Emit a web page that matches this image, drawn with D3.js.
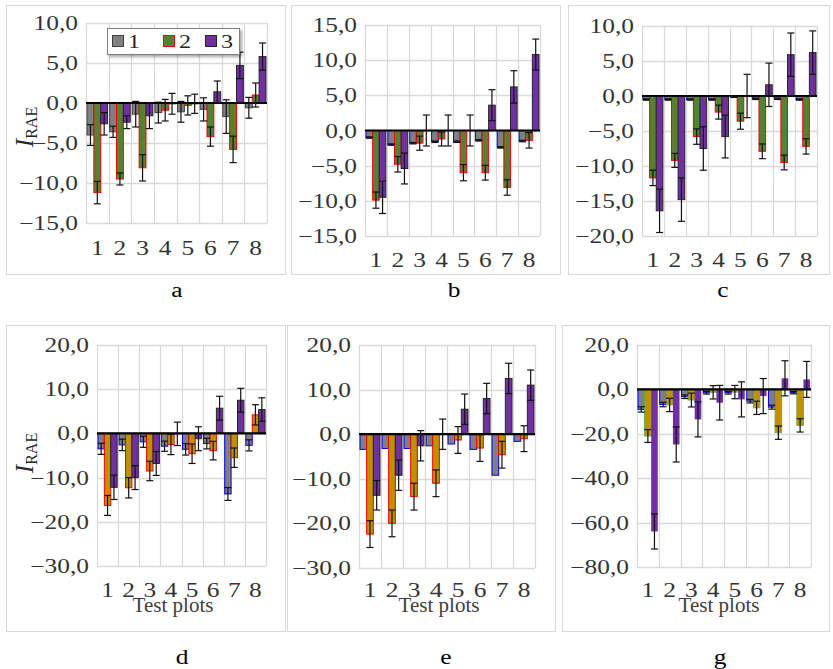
<!DOCTYPE html>
<html>
<head>
<meta charset="utf-8">
<script src="https://cdn.jsdelivr.net/npm/d3@7"></script>
<style>
  body { margin: 0; background: #fff; }
  svg { display: block; }
</style>
</head>
<body>
<svg id="chart" width="833" height="669"></svg>
<script>
const categories = ["1", "2", "3", "4", "5", "6", "7", "8"];

// panel a
const aS1 = [-4.0, -3.6, -1.4, -1.2, -1.1, -0.8, -1.7, -0.6];
const aS2 = [-11.2, -9.5, -8.1, -0.9, -0.3, -4.2, -5.8, 1.0];
const aS3 = [-2.6, -2.4, -1.6, -0.1, -0.1, 1.4, 4.7, 5.8];
const aE1 = [1.3, 0.7, 1.6, 1.3, 1.3, 1.45, 2.1, 1.3];
const aE2 = [1.4, 0.75, 1.65, 1.35, 1.2, 1.2, 1.65, 1.5];
const aE3 = [1.4, 0.8, 1.6, 1.3, 1.2, 1.35, 1.65, 1.7];

// panel b
const bS1 = [-1.0, -2.0, -1.8, -1.6, -1.6, -1.4, -2.4, -1.5];
const bS2 = [-9.9, -4.8, -1.8, -1.2, -6.0, -6.0, -8.1, -1.4];
const bS3 = [-9.5, -5.4, 0.0, 0.0, 0.0, 3.6, 6.2, 10.8];
const bE1 = [0.1, 0.1, 0.1, 0.1, 0.1, 0.1, 0.1, 0.1];
const bE2 = [1.15, 1.1, 1.0, 1.0, 1.15, 1.05, 1.1, 1.1];
const bE3 = [2.3, 2.2, 2.2, 2.2, 2.2, 2.2, 2.3, 2.2];

// panel c
const cS1 = [-0.5, -0.5, -0.5, -0.5, -0.1, -0.4, -0.4, -0.5];
const cS2 = [-11.7, -9.2, -5.8, -2.3, -3.6, -7.9, -9.5, -7.2];
const cS3 = [-16.4, -14.8, -7.5, -5.8, 0.0, 1.6, 5.9, 6.2];
const cE1 = [0.1, 0.1, 0.1, 0.1, 0.1, 0.1, 0.1, 0.1];
const cE2 = [1.1, 1.0, 1.1, 1.0, 1.15, 1.05, 1.05, 1.1];
const cE3 = [3.1, 3.1, 3.1, 3.05, 3.1, 3.1, 3.1, 3.1];

// panel d
const dS1 = [-3.5, -2.6, -1.9, -2.9, -3.6, -2.3, -13.7, -2.7];
const dS2 = [-16.3, -12.3, -8.5, -2.5, -4.6, -3.9, -5.5, 4.2];
const dS3 = [-12.2, -10.0, -6.8, -0.1, -1.2, 5.7, 7.5, 5.4];
const dE1 = [1.25, 1.3, 1.25, 1.15, 1.3, 1.2, 1.45, 1.25];
const dE2 = [2.25, 2.3, 2.2, 2.3, 2.2, 2.1, 2.2, 2.3];
const dE3 = [2.75, 2.7, 2.7, 2.65, 2.7, 2.7, 2.7, 2.65];

// panel e
const eS1 = [-3.4, -3.2, -3.2, -2.6, -2.2, -3.4, -9.2, -1.6];
const eS2 = [-22.4, -20.0, -14.0, -11.0, -1.3, -3.1, -4.6, -1.0];
const eS3 = [-13.7, -9.2, -2.6, 0.0, 5.6, 8.0, 12.5, 11.0];
const eE1 = [0, 0, 0, 0, 0, 0, 0, 0];
const eE2 = [3.0, 3.0, 3.0, 3.0, 3.0, 3.0, 3.0, 2.9];
const eE3 = [3.3, 3.4, 3.4, 3.4, 3.4, 3.4, 3.4, 3.4];

// panel g
const gS1 = [-9.0, -6.8, -3.3, -1.5, -1.5, -5.3, -8.0, -1.5];
const gS2 = [-21.0, -7.0, -4.8, -1.3, -1.2, -8.3, -19.5, -16.2];
const gS3 = [-64.0, -24.8, -13.5, -6.0, -4.5, -3.0, 5.0, 4.5];
const gE1 = [1.2, 1.0, 0.8, 0.6, 0.6, 0.8, 0.9, 0.5];
const gE2 = [2.9, 3.0, 3.1, 3.0, 3.0, 3.0, 3.0, 3.0];
const gE3 = [7.9, 7.9, 7.9, 7.8, 7.9, 7.9, 7.9, 8.1];

const ticksA = [-15, -10, -5, 0, 5, 10];
const ticksB = [-15, -10, -5, 0, 5, 10, 15];
const ticksC = [-20, -15, -10, -5, 0, 5, 10];
const ticksDE = [-30, -20, -10, 0, 10, 20];
const ticksG = [-80, -60, -40, -20, 0, 20];

const legendLabels = ["1", "2", "3"];

const GRAY = "#808080", GREEN = "#548235", PURPLE = "#7030a0", GOLD = "#bf9000";
const FONT = "'Liberation Serif', 'Times New Roman', serif";
const STRETCH = 1.27; // reference text is drawn wide

const panels = [
  { name: "a", frame: [6, 5, 285, 274], plot: [86, 23, 267, 223], ticks: ticksA,
    series: [aS1, aS2, aS3], errs: [aE1, aE2, aE3],
    fills: [GRAY, GREEN, PURPLE], strokes: ["#404040", "#ff0000", "#262626"],
    xLabelY: 255, label: [177, 297], yTitle: [33, 127], legend: true },
  { name: "b", frame: [291, 5, 560, 274], plot: [365, 25, 540, 236], ticks: ticksB,
    series: [bS1, bS2, bS3], errs: [bE1, bE2, bE3],
    fills: [GRAY, GREEN, PURPLE], strokes: ["#0000ff", "#ff0000", "#262626"],
    xLabelY: 267, label: [454, 297] },
  { name: "c", frame: [568, 5, 829, 274], plot: [642, 26, 817, 236], ticks: ticksC,
    series: [cS1, cS2, cS3], errs: [cE1, cE2, cE3],
    fills: [GRAY, GREEN, PURPLE], strokes: ["#0000ff", "#ff0000", "#262626"],
    xLabelY: 267, label: [723, 297] },
  { name: "d", frame: [6, 325, 285, 631], plot: [97, 345, 266, 566], ticks: ticksDE,
    series: [dS1, dS2, dS3], errs: [dE1, dE2, dE3],
    fills: [GRAY, GOLD, PURPLE], strokes: ["#0000ff", "#ff0000", "#262626"],
    xLabelY: 597, label: [182, 664], yTitle: [33, 453], xTitle: [173, 612] },
  { name: "e", frame: [287, 325, 555, 631], plot: [359, 345, 535, 568], ticks: ticksDE,
    series: [eS1, eS2, eS3], errs: [eE1, eE2, eE3],
    fills: [GRAY, GOLD, PURPLE], strokes: ["#0000ff", "#ff0000", "#262626"],
    xLabelY: 597, label: [446, 664], xTitle: [439, 612] },
  { name: "g", frame: [562, 325, 829, 631], plot: [637, 345, 811, 567], ticks: ticksG,
    series: [gS1, gS2, gS3], errs: [gE1, gE2, gE3],
    fills: [GRAY, GOLD, PURPLE], strokes: ["#0000ff", "#70ad47", "none"],
    xLabelY: 597, label: [720, 664], xTitle: [719, 612] }
];

const svg = d3.select("#chart").attr("font-family", FONT);
const fmt = v => d3.format(".1f")(v).replace(".", ",");

const defs = svg.append("defs");
defs.append("filter").attr("id", "shadow")
  .attr("x", "-10%").attr("y", "-20%").attr("width", "130%").attr("height", "160%")
  .append("feDropShadow")
  .attr("dx", 2).attr("dy", 2).attr("stdDeviation", 1.5)
  .attr("flood-color", "#000").attr("flood-opacity", 0.35);

// wide text helper: position by translate, stretch horizontally
function wideText(sel, x, y, size) {
  return sel.attr("transform", (d, i) => {
    const xx = typeof x === "function" ? x(d, i) : x;
    const yy = typeof y === "function" ? y(d, i) : y;
    return `translate(${xx},${yy}) scale(${STRETCH},1)`;
  }).attr("font-size", size).attr("font-family", FONT);
}

panels.forEach(p => {
  const [fx0, fy0, fx1, fy1] = p.frame;
  const [px0, py0, px1, py1] = p.plot;
  const g = svg.append("g").attr("class", "panel-" + p.name);

  g.append("rect")
    .attr("x", fx0 + 0.5).attr("y", fy0 + 0.5)
    .attr("width", fx1 - fx0).attr("height", fy1 - fy0)
    .attr("fill", "#fff").attr("stroke", "#d9d9d9");

  const x = d3.scaleBand().domain(categories).range([px0, px1]);
  const xs = d3.scaleBand().domain([0, 1, 2]).range([0, x.bandwidth()]).paddingOuter(0.15);
  const y = d3.scaleLinear().domain(d3.extent(p.ticks)).range([py1, py0]);

  // gridlines
  g.append("g").selectAll("line").data(p.ticks).join("line")
    .attr("x1", px0).attr("x2", px1)
    .attr("y1", d => Math.round(y(d)) + 0.5).attr("y2", d => Math.round(y(d)) + 0.5)
    .attr("stroke", "#d9d9d9").attr("stroke-width", 1.3);
  const vEdges = categories.map(c => x(c)).concat([px1]);
  g.append("g").selectAll("line").data(vEdges).join("line")
    .attr("x1", d => Math.round(d) + 0.5).attr("x2", d => Math.round(d) + 0.5)
    .attr("y1", py0).attr("y2", py1)
    .attr("stroke", "#d9d9d9").attr("stroke-width", 1.3);

  // y tick labels
  wideText(g.append("g").selectAll("text").data(p.ticks).join("text"),
      px0 - 8, d => y(d) + 7, 20)
    .attr("text-anchor", "end").attr("fill", "#333")
    .text(fmt);

  // x tick labels
  wideText(g.append("g").selectAll("text").data(categories).join("text"),
      d => x(d) + x.bandwidth() / 2, p.xLabelY, 20)
    .attr("text-anchor", "middle").attr("fill", "#333")
    .text(d => d);

  // bars
  p.series.forEach((vals, si) => {
    const bw = xs.bandwidth();
    g.append("g").selectAll("rect").data(vals).join("rect")
      .attr("x", (d, i) => x(categories[i]) + xs(si))
      .attr("y", d => y(Math.max(0, d)))
      .attr("width", bw)
      .attr("height", d => Math.abs(y(d) - y(0)))
      .attr("fill", p.fills[si])
      .attr("stroke", p.strokes[si])
      .attr("stroke-width", p.strokes[si] === "none" ? 0 : 1);
  });

  // zero line
  g.append("line")
    .attr("x1", px0).attr("x2", px1)
    .attr("y1", y(0)).attr("y2", y(0))
    .attr("stroke", "#000").attr("stroke-width", 2.2);

  // error bars
  p.series.forEach((vals, si) => {
    const errs = p.errs[si];
    const eg = g.append("g").attr("stroke", "#111").attr("stroke-width", 1.2);
    vals.forEach((v, i) => {
      const e = errs[i];
      if (!e) return;
      const cx = x(categories[i]) + xs(si) + xs.bandwidth() / 2;
      const yt = y(v + e), yb = y(v - e);
      eg.append("line").attr("x1", cx).attr("x2", cx).attr("y1", yt).attr("y2", yb);
      eg.append("line").attr("x1", cx - 3.5).attr("x2", cx + 3.5).attr("y1", yt).attr("y2", yt);
      eg.append("line").attr("x1", cx - 3.5).attr("x2", cx + 3.5).attr("y1", yb).attr("y2", yb);
    });
  });

  // y axis title
  if (p.yTitle) {
    const t = g.append("text")
      .attr("transform", `translate(${p.yTitle[0]},${p.yTitle[1]}) rotate(-90)`)
      .attr("text-anchor", "middle").attr("fill", "#262626").attr("font-family", FONT);
    t.append("tspan").attr("font-style", "italic").attr("font-size", 25).text("I");
    t.append("tspan").attr("font-size", 16).attr("dy", 4).text("RAE");
  }

  // x axis title
  if (p.xTitle) {
    g.append("text")
      .attr("x", p.xTitle[0]).attr("y", p.xTitle[1])
      .attr("text-anchor", "middle").attr("font-size", 21).attr("fill", "#404040")
      .attr("font-family", FONT)
      .text("Test plots");
  }

  // panel letter
  wideText(svg.append("text"), p.label[0], p.label[1], 20)
    .attr("text-anchor", "middle").attr("fill", "#000")
    .text(p.name);

  // legend
  if (p.legend) {
    const lg = g.append("g");
    lg.append("rect")
      .attr("x", 107.5).attr("y", 28.5).attr("width", 132).attr("height", 26)
      .attr("fill", "#fff").attr("stroke", "#7f7f7f").attr("filter", "url(#shadow)");
    const itemX = [112, 163, 205];
    legendLabels.forEach((lbl, i) => {
      lg.append("rect")
        .attr("x", itemX[i] + 0.5).attr("y", 35.5).attr("width", 11).attr("height", 11)
        .attr("fill", p.fills[i]).attr("stroke", p.strokes[i]).attr("stroke-width", 1);
      wideText(lg.append("text"), itemX[i] + 16, 48, 19)
        .attr("fill", "#262626")
        .text(lbl);
    });
  }
});
</script>
</body>
</html>
